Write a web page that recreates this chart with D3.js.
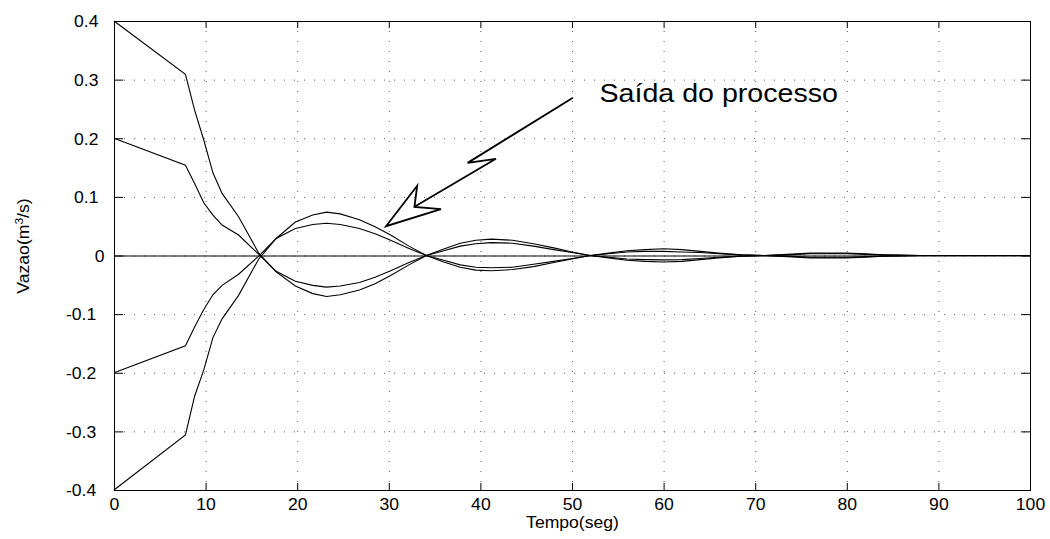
<!DOCTYPE html>
<html>
<head>
<meta charset="utf-8">
<script src="https://cdn.jsdelivr.net/npm/d3@7"></script>
<style>
  body { margin: 0; background: #fff; }
  svg { display: block; font-family: "Liberation Sans", Arial, sans-serif; }
</style>
</head>
<body>
<svg id="chart" width="1050" height="539"></svg>
<script>
// tempo (seg) e as quatro saidas
var tempo = [0, 7.8, 8.8, 9.8, 10.8, 11.8, 13.6, 15.8, 17.7, 19.8, 21.7, 23.2, 24.7, 26.8, 28.5, 30.2, 32.2, 34.1,
             36, 37.8, 39.5, 41.2, 43.5, 45.8, 48, 50, 52, 54, 56, 58, 60, 62, 64, 66, 68.5, 71,
             73.5, 76, 78, 80, 82, 84, 88, 100];

var saida04 = [0.4, 0.309, 0.248, 0.197, 0.141, 0.106, 0.066, 0.004, -0.028, -0.052, -0.065, -0.070, -0.067, -0.059, -0.048, -0.034, -0.016, 0.000,
               0.011, 0.021, 0.026, 0.028, 0.026, 0.020, 0.013, 0.006, 0.000, -0.004, -0.008, -0.010, -0.011, -0.010, -0.007, -0.004, -0.001, 0.000,
               0.002, 0.004, 0.004, 0.004, 0.003, 0.001, 0.000, 0.000];

var saida02 = [0.2, 0.154, 0.123, 0.090, 0.069, 0.052, 0.035, 0.002, -0.027, -0.044, -0.051, -0.054, -0.052, -0.046, -0.037, -0.026, -0.012, 0.000,
               0.008, 0.016, 0.020, 0.022, 0.021, 0.016, 0.010, 0.005, 0.000, -0.003, -0.006, -0.007, -0.0075, -0.007, -0.005, -0.003, -0.001, 0.000,
               0.001, 0.003, 0.003, 0.003, 0.002, 0.001, 0.000, 0.000];

var saidaM02 = [-0.2, -0.154, -0.122, -0.092, -0.067, -0.051, -0.032, -0.001, 0.029, 0.046, 0.053, 0.055, 0.053, 0.046, 0.037, 0.026, 0.012, 0.000,
                -0.008, -0.016, -0.020, -0.021, -0.020, -0.015, -0.010, -0.005, 0.000, 0.003, 0.006, 0.007, 0.007, 0.006, 0.005, 0.003, 0.001, 0.000,
                -0.001, -0.003, -0.003, -0.003, -0.002, -0.001, 0.000, 0.000];

var saidaM04 = [-0.4, -0.306, -0.240, -0.195, -0.140, -0.108, -0.068, -0.006, 0.029, 0.057, 0.069, 0.074, 0.071, 0.061, 0.049, 0.035, 0.016, 0.000,
                -0.011, -0.020, -0.025, -0.026, -0.024, -0.019, -0.012, -0.006, 0.000, 0.004, 0.008, 0.010, 0.0115, 0.010, 0.007, 0.004, 0.001, 0.000,
                -0.002, -0.004, -0.004, -0.004, -0.003, -0.001, 0.000, 0.000];

var xTicks = [0, 10, 20, 30, 40, 50, 60, 70, 80, 90, 100];
var yTicks = [-0.4, -0.3, -0.2, -0.1, 0, 0.1, 0.2, 0.3, 0.4];
var yTickLabels = ['-0.4', '-0.3', '-0.2', '-0.1', '0', '0.1', '0.2', '0.3', '0.4'];

// seta da anotacao, em unidades do grafico (tempo, vazao)
var setaHaste = [[50.1, 0.269], [38.6, 0.158], [41.7, 0.165], [32.8, 0.083]];
var setaPonta = [[33.1, 0.119], [29.7, 0.050], [35.7, 0.079], [32.8, 0.083]];
var anotacao = {t: 53.0, v: 0.261, texto: 'Saída do processo'};

var stretch = 1.1;
var svg = d3.select('#chart');
var x = d3.scaleLinear().domain([0, 100]).range([114, 1030]);
var y = d3.scaleLinear().domain([-0.4, 0.4]).range([490, 21]);

// grade pontilhada
svg.selectAll('.gridx').data(xTicks.slice(1, -1)).enter().append('line')
   .attr('class', 'gridx')
   .attr('x1', function(d) { return x(d) + 0.5; })
   .attr('x2', function(d) { return x(d) + 0.5; })
   .attr('y1', y(0.4)).attr('y2', y(-0.4))
   .style('stroke', '#555').style('stroke-width', 1).style('stroke-dasharray', '1,9');
svg.selectAll('.gridy').data(yTicks.slice(1, -1)).enter().append('line')
   .attr('class', 'gridy')
   .attr('y1', function(d) { return y(d) + 0.5; })
   .attr('y2', function(d) { return y(d) + 0.5; })
   .attr('x1', x(0)).attr('x2', x(100))
   .style('stroke', '#555').style('stroke-width', 1).style('stroke-dasharray', '1,9');

// linha do zero
svg.append('line')
   .attr('x1', x(0)).attr('x2', x(100))
   .attr('y1', y(0) + 0.5).attr('y2', y(0) + 0.5)
   .style('stroke', '#000').style('stroke-width', 1);

// curvas
var line = d3.line()
  .x(function(d, i) { return x(tempo[i]); })
  .y(function(d) { return y(d); });

svg.selectAll('.saida').data([saida04, saida02, saidaM02, saidaM04]).enter().append('path')
   .attr('class', 'saida')
   .attr('d', line)
   .style('fill', 'none').style('stroke', '#000').style('stroke-width', 1.1);

// eixos
function estilo(g) {
  g.attr('font-size', 16).attr('font-family', '"Liberation Sans", Arial, sans-serif');
  g.select('.domain').remove();
  g.selectAll('.tick line').style('stroke', '#000');
  g.selectAll('.tick text').style('fill', '#000');
}

var gy = svg.append('g').attr('transform', 'translate(' + x(0) + ',0)')
  .call(d3.axisLeft(y).tickValues(yTicks).tickFormat(function(d, i) { return yTickLabels[i]; })
        .tickSize(-9).tickSizeOuter(0).tickPadding(15))
  .call(estilo);
gy.selectAll('.tick text')
  .attr('x', null)
  .attr('dy', '0.36em')
  .attr('transform', function(d) {
    var dx = d === 0 ? -9.5 : (d < 0 ? -17.8 : -15.5);
    return 'translate(' + dx + ',0) scale(' + stretch + ',1)';
  });

svg.append('g').attr('transform', 'translate(' + x(100) + ',0)')
  .call(d3.axisRight(y).tickValues(yTicks).tickFormat('').tickSize(-9).tickSizeOuter(0))
  .call(estilo);

var gx = svg.append('g').attr('transform', 'translate(0,' + y(-0.4) + ')')
  .call(d3.axisBottom(x).tickValues(xTicks).tickFormat(d3.format('d')).tickSize(-7).tickSizeOuter(0).tickPadding(8.5))
  .call(estilo);
gx.selectAll('.tick text').attr('transform', 'scale(' + stretch + ',1)');

svg.append('g').attr('transform', 'translate(0,' + y(0.4) + ')')
  .call(d3.axisTop(x).tickValues(xTicks).tickFormat('').tickSize(-7).tickSizeOuter(0))
  .call(estilo);

// moldura
svg.append('rect')
   .attr('x', x(0) + 0.5).attr('y', y(0.4) + 0.5)
   .attr('width', x(100) - x(0)).attr('height', y(-0.4) - y(0.4))
   .style('fill', 'none').style('stroke', '#000').style('stroke-width', 1);

// rotulos
svg.append('text')
   .attr('transform', 'translate(572.5,528) scale(' + stretch + ',1)')
   .attr('text-anchor', 'middle').attr('font-size', 16)
   .text('Tempo(seg)');

var yl = svg.append('text')
   .attr('transform', 'translate(28.5,246) rotate(-90) scale(' + stretch + ',1)')
   .attr('text-anchor', 'middle').attr('font-size', 16);
yl.append('tspan').text('Vazao(m');
yl.append('tspan').attr('font-size', 11).attr('dy', -6).text('3');
yl.append('tspan').attr('font-size', 16).attr('dy', 6).text('/s)');

// anotacao
svg.append('text')
   .attr('transform', 'translate(' + x(anotacao.t) + ',' + y(anotacao.v) + ') scale(' + stretch + ',1)')
   .attr('font-size', 26)
   .text(anotacao.texto);

var seta = d3.line()
  .x(function(d) { return x(d[0]); })
  .y(function(d) { return y(d[1]); });

svg.append('path').attr('d', seta(setaHaste))
   .style('fill', 'none').style('stroke', '#000').style('stroke-width', 1.8).style('stroke-linejoin', 'miter');
svg.append('path').attr('d', seta(setaPonta) + 'Z')
   .style('fill', 'none').style('stroke', '#000').style('stroke-width', 1.8).style('stroke-linejoin', 'miter');
</script>
</body>
</html>
